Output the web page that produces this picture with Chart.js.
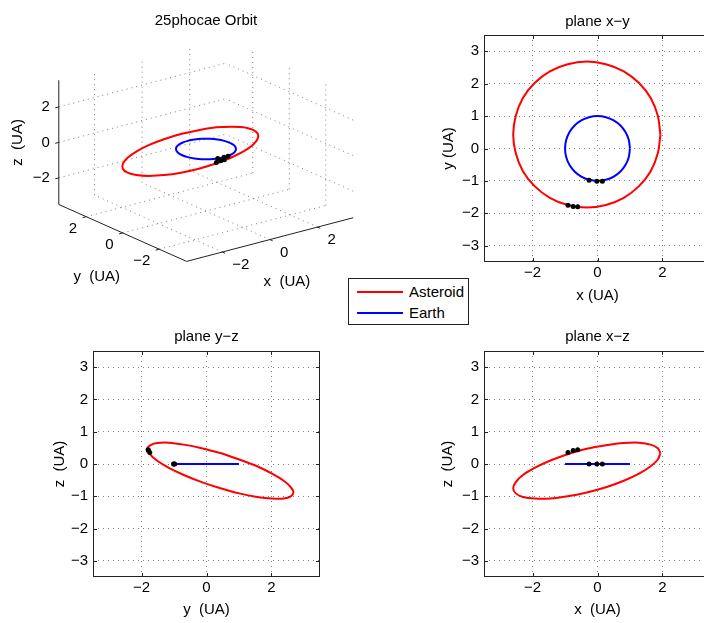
<!DOCTYPE html>
<html>
<head>
<meta charset="utf-8">
<script src="https://cdn.jsdelivr.net/npm/chart.js@4.4.1/dist/chart.umd.min.js"></script>
<style>
  html, body { margin: 0; padding: 0; background: #fff; width: 704px; height: 623px; overflow: hidden; }
  canvas { position: absolute; }
  #legend { position: absolute; left: 348px; top: 278px; width: 119px; height: 45px; border: 1px solid #222;
            background: #fff; font: 15px "Liberation Sans", Arial, sans-serif; z-index: 5; }
  #legend .row { position: absolute; left: 0; height: 18px; line-height: 18px; }
  #legend .swatch { position: absolute; left: 8px; top: 8px; width: 46px; height: 2px; }
  #legend .lab { position: absolute; left: 60px; top: 0; white-space: nowrap; }
</style>
</head>
<body>
<canvas id="orbit3d" width="400" height="315" style="left:0;top:0"></canvas>
<canvas id="planeXY" width="330" height="310" style="left:400px;top:0"></canvas>
<canvas id="planeYZ" width="340" height="308" style="left:0;top:315px"></canvas>
<canvas id="planeXZ" width="330" height="308" style="left:400px;top:315px"></canvas>
<div id="legend">
  <div class="row" style="top:4px"><div class="swatch" style="background:#ff0000"></div><div class="lab">Asteroid</div></div>
  <div class="row" style="top:25px"><div class="swatch" style="background:#0000ff"></div><div class="lab">Earth</div></div>
</div>
<script>
// orbit of the asteroid (UA)
const astX = [1.94, 1.86, 1.64, 1.28, 0.81, 0.26, -0.33, -0.92, -1.47, -1.94, -2.30, -2.52, -2.60,
              -2.52, -2.30, -1.94, -1.47, -0.92, -0.33, 0.26, 0.81, 1.28, 1.64, 1.86, 1.94];
const astY = [0.43, 1.01, 1.56, 2.02, 2.38, 2.60, 2.68, 2.60, 2.38, 2.02, 1.56, 1.01, 0.43,
              -0.15, -0.70, -1.16, -1.52, -1.74, -1.82, -1.74, -1.52, -1.16, -0.70, -0.15, 0.43];
const astZ = [0.34, 0.14, -0.07, -0.30, -0.52, -0.72, -0.88, -1.00, -1.07, -1.07, -1.02, -0.91, -0.75,
              -0.56, -0.34, -0.12, 0.10, 0.30, 0.47, 0.58, 0.65, 0.66, 0.60, 0.49, 0.34];

// orbit of the Earth
const earthX = [1, 0.966, 0.866, 0.707, 0.5, 0.259, 0, -0.259, -0.5, -0.707, -0.866, -0.966, -1,
                -0.966, -0.866, -0.707, -0.5, -0.259, 0, 0.259, 0.5, 0.707, 0.866, 0.966, 1];
const earthY = [0, 0.259, 0.5, 0.707, 0.866, 0.966, 1, 0.966, 0.866, 0.707, 0.5, 0.259, 0,
                -0.259, -0.5, -0.707, -0.866, -0.966, -1, -0.966, -0.866, -0.707, -0.5, -0.259, 0];
const earthZ = [0, 0, 0, 0, 0, 0, 0, 0, 0, 0, 0, 0, 0, 0, 0, 0, 0, 0, 0, 0, 0, 0, 0, 0, 0];

// marked positions (black dots)
const astDotX = [-0.91, -0.75, -0.61];
const astDotY = [-1.75, -1.79, -1.80];
const astDotZ = [0.36, 0.42, 0.44];
const earthDotX = [-0.26, -0.02, 0.15];
const earthDotY = [-0.98, -1.01, -1.01];
const earthDotZ = [0, 0, 0];

// ticks
const vTicks = [-3, -2, -1, 0, 1, 2, 3];
const hTicks = [-2, 0, 2];
const ticks3d = [-2, 0, 2];
const lim = 3.5;

Chart.defaults.font.family = '"Liberation Sans", Arial, Helvetica, sans-serif';
Chart.defaults.font.size = 15;
Chart.defaults.color = '#000';

const gridColor = 'rgba(0,0,0,0.5)';
const axisColor = '#222';
const fmt = v => (v < 0 ? '\u2212' + Math.abs(v) : String(v));
const pts = (a, b) => a.map((v, i) => ({ x: v, y: b[i] }));

const series = {
  ast: { x: astX, y: astY, z: astZ },
  earth: { x: earthX, y: earthY, z: earthZ },
  astDot: { x: astDotX, y: astDotY, z: astDotZ },
  earthDot: { x: earthDotX, y: earthDotY, z: earthDotZ }
};

function datasets(get) {
  return [
    { data: get(series.astDot), showLine: false, pointRadius: 2.5, backgroundColor: '#000', borderWidth: 0 },
    { data: get(series.earthDot), showLine: false, pointRadius: 2.5, backgroundColor: '#000', borderWidth: 0 },
    { data: get(series.earth), showLine: true, borderColor: '#0000ff', borderWidth: 2, pointRadius: 0, tension: 0.3 },
    { data: get(series.ast), showLine: true, borderColor: '#ff0000', borderWidth: 2, pointRadius: 0, tension: 0.3 }
  ];
}

// box with inward tick marks, like the original axes
const framePlugin = {
  id: 'frame',
  afterDraw(chart) {
    const { ctx, chartArea: a, scales: { x, y } } = chart;
    ctx.save();
    ctx.strokeStyle = axisColor;
    ctx.lineWidth = 1;
    ctx.strokeRect(Math.round(a.left) + 0.5, Math.round(a.top) + 0.5,
                   Math.round(a.right - a.left) - 1, Math.round(a.bottom - a.top) - 1);
    ctx.beginPath();
    x.ticks.forEach(t => {
      const p = Math.round(x.getPixelForValue(t.value)) + 0.5;
      ctx.moveTo(p, a.top); ctx.lineTo(p, a.top + 4);
      ctx.moveTo(p, a.bottom); ctx.lineTo(p, a.bottom - 4);
    });
    y.ticks.forEach(t => {
      const p = Math.round(y.getPixelForValue(t.value)) + 0.5;
      ctx.moveTo(a.left, p); ctx.lineTo(a.left + 4, p);
      ctx.moveTo(a.right, p); ctx.lineTo(a.right - 4, p);
    });
    ctx.stroke();
    ctx.restore();
  }
};

function planeChart(id, title, h, v, hName, vName, L) {
  return new Chart(document.getElementById(id), {
    type: 'scatter',
    data: { datasets: datasets(s => pts(s[h], s[v])) },
    options: {
      responsive: false, animation: false, devicePixelRatio: 1,
      layout: { padding: { left: 0, top: 0, right: L.right, bottom: 0 } },
      plugins: {
        legend: { display: false }, tooltip: { enabled: false },
        title: { display: true, text: title, fullSize: false, font: { weight: 'normal' },
                 padding: { top: L.tt, bottom: L.tb } }
      },
      scales: {
        x: {
          type: 'linear', min: -lim, max: lim,
          afterBuildTicks: s => { s.ticks = hTicks.map(t => ({ value: t })); },
          afterFit: s => { s.height = L.xh; },
          grid: { color: gridColor, drawTicks: false },
          border: { display: false, dash: [1, 4] },
          ticks: { padding: 2, maxRotation: 0, autoSkip: false, callback: fmt },
          title: { display: true, text: hName, padding: { top: 0, bottom: L.xtb } }
        },
        y: {
          type: 'linear', min: -lim, max: lim,
          afterBuildTicks: s => { s.ticks = vTicks.map(t => ({ value: t })); },
          afterFit: s => { s.width = L.yw; },
          grid: { color: gridColor, drawTicks: false },
          border: { display: false, dash: [1, 4] },
          ticks: { padding: 5, autoSkip: false, callback: fmt },
          title: { display: true, text: vName, padding: { top: L.ytp, bottom: 0 } }
        }
      }
    },
    plugins: [framePlugin]
  });
}

planeChart('planeXY', 'plane x\u2212y', 'x', 'y', 'x (UA)', 'y (UA)',
  { right: 19, tt: 13, tb: 4, xh: 48, xtb: 5, yw: 84, ytp: 40 });
planeChart('planeYZ', 'plane y\u2212z', 'y', 'z', 'y  (UA)', 'z  (UA)',
  { right: 20, tt: 13, tb: 5, xh: 46, xtb: 4, yw: 93, ytp: 51 });
planeChart('planeXZ', 'plane x\u2212z', 'x', 'z', 'x  (UA)', 'z  (UA)',
  { right: 19, tt: 13, tb: 5, xh: 46, xtb: 4, yw: 84, ytp: 39 });

// 3-D view (azimuth -37.5, elevation 30)
const az = -37.5 * Math.PI / 180, el = 30 * Math.PI / 180;
function proj(x, y, z) {
  return {
    u: Math.cos(az) * x + Math.sin(az) * y,
    v: -Math.sin(el) * Math.sin(az) * x + Math.sin(el) * Math.cos(az) * y + Math.cos(el) * z
  };
}
const uMax = lim * (Math.abs(Math.cos(az)) + Math.abs(Math.sin(az)));
const vMax = lim * (Math.abs(Math.sin(el) * Math.sin(az)) + Math.abs(Math.sin(el) * Math.cos(az)) + Math.cos(el));

const view3d = {
  id: 'view3d',
  beforeDatasetsDraw(chart) {
    const { ctx, scales: { x: su, y: sv } } = chart;
    const P = (x, y, z) => { const q = proj(x, y, z); return [su.getPixelForValue(q.u), sv.getPixelForValue(q.v)]; };
    const seg = (a, b) => { const p = P(...a), q = P(...b); ctx.moveTo(p[0], p[1]); ctx.lineTo(q[0], q[1]); };
    const tk = 0.15;
    ctx.save();
    ctx.lineWidth = 1;
    ctx.strokeStyle = gridColor;
    ctx.setLineDash([1, 4]);
    ctx.beginPath();
    ticks3d.forEach(t => {
      seg([t, lim, -lim], [t, lim, lim]); seg([-lim, lim, t], [lim, lim, t]);
      seg([lim, t, -lim], [lim, t, lim]); seg([lim, -lim, t], [lim, lim, t]);
      seg([t, -lim, -lim], [t, lim, -lim]); seg([-lim, t, -lim], [lim, t, -lim]);
    });
    ctx.stroke();
    ctx.setLineDash([]);
    ctx.strokeStyle = axisColor;
    ctx.beginPath();
    seg([-lim, lim, -lim], [-lim, lim, lim]);
    seg([-lim, lim, -lim], [-lim, -lim, -lim]);
    seg([-lim, -lim, -lim], [lim, -lim, -lim]);
    ticks3d.forEach(t => {
      seg([-lim, lim, t], [-lim - tk, lim, t]);
      seg([-lim, t, -lim], [-lim - tk, t, -lim]);
      seg([t, -lim, -lim], [t, -lim - tk, -lim]);
    });
    ctx.stroke();

    ctx.fillStyle = '#000';
    ctx.font = '15px "Liberation Sans", Arial, sans-serif';
    ctx.textBaseline = 'middle';
    ctx.textAlign = 'right';
    ticks3d.forEach(t => {
      let p = P(-lim, lim, t); ctx.fillText(fmt(t), p[0] - 9, p[1]);
      p = P(-lim, t, -lim); ctx.fillText(fmt(t), p[0] - 9, p[1] + 12);
    });
    ctx.textAlign = 'left';
    ticks3d.forEach(t => {
      const p = P(t, -lim, -lim); ctx.fillText(fmt(t), p[0] + 10, p[1] + 13);
    });
    ctx.textAlign = 'center';
    let p = P(0, -lim, -lim); ctx.fillText('x  (UA)', p[0] + 17, p[1] + 42);
    p = P(-lim, 0, -lim); ctx.fillText('y  (UA)', p[0] - 26, p[1] + 44);
    p = P(-lim, lim, 0);
    ctx.translate(p[0] - 41, p[1]);
    ctx.rotate(-Math.PI / 2);
    ctx.fillText('z  (UA)', 0, 0);
    ctx.restore();
  }
};

new Chart(document.getElementById('orbit3d'), {
  type: 'scatter',
  data: {
    datasets: datasets(s => s.x.map((xv, i) => { const q = proj(xv, s.y[i], s.z[i]); return { x: q.u, y: q.v }; }))
  },
  options: {
    responsive: false, animation: false, devicePixelRatio: 1,
    layout: { padding: { left: 58.8, right: 46.8, top: 0, bottom: 53.6 } },
    plugins: {
      legend: { display: false }, tooltip: { enabled: false },
      title: { display: true, text: '25phocae Orbit', fullSize: false, font: { weight: 'normal' },
               padding: { top: 11.5, bottom: 7.1 } }
    },
    scales: {
      x: { type: 'linear', display: false, min: -uMax, max: uMax },
      y: { type: 'linear', display: false, min: -vMax, max: vMax }
    }
  },
  plugins: [view3d]
});
</script>
</body>
</html>
